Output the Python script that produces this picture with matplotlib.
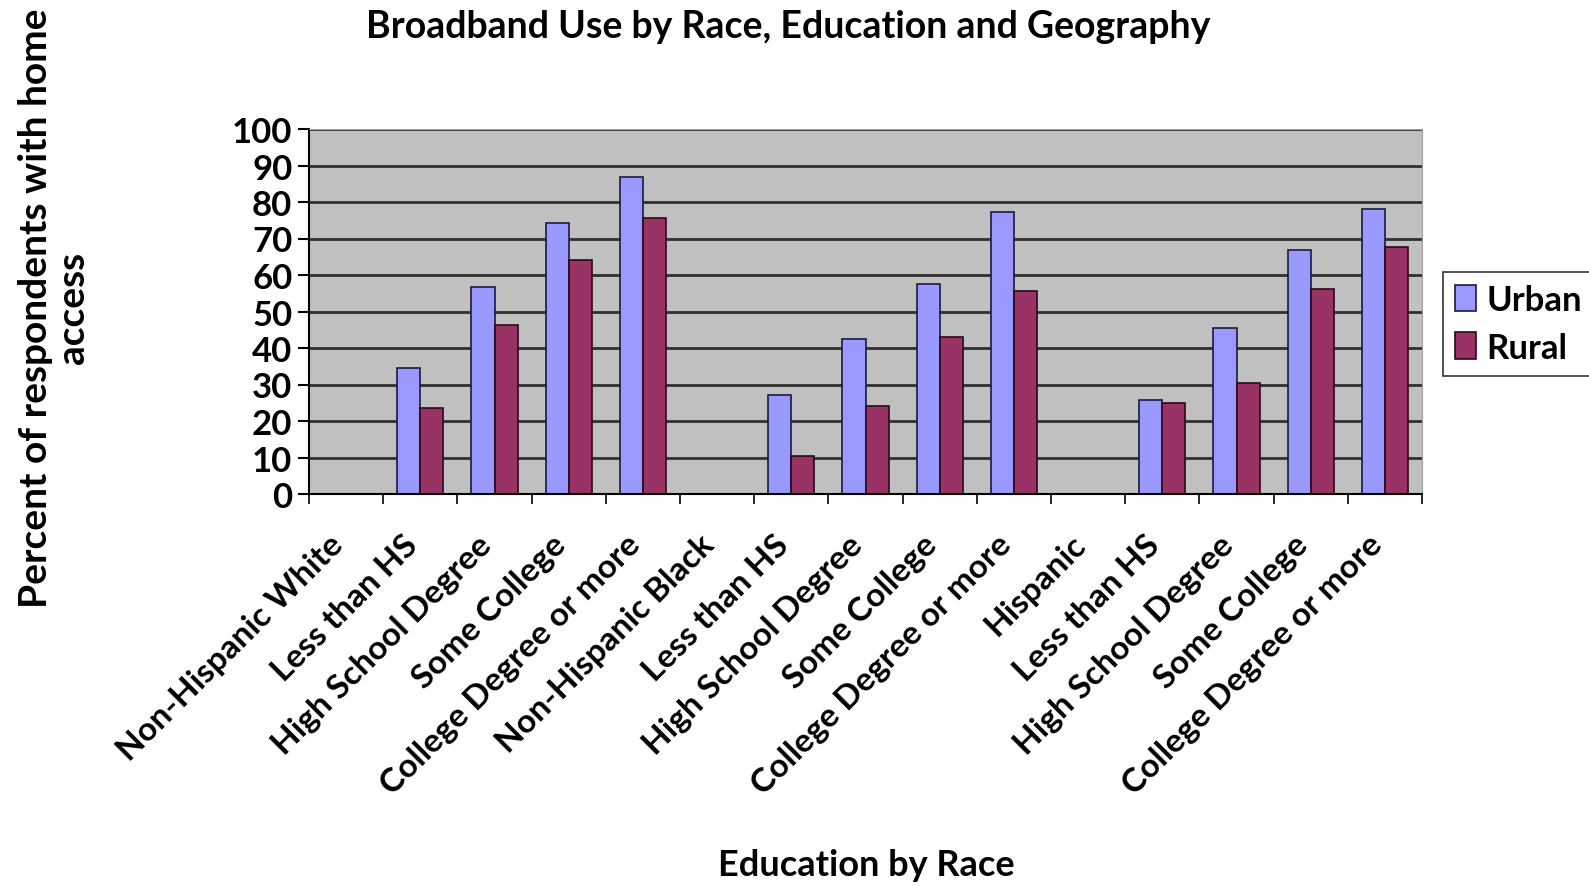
import numpy as np
import matplotlib
matplotlib.use("Agg")
import matplotlib.pyplot as plt
import matplotlib.transforms as mtransforms

# data (nan = group header, no bars)
categories = ['Non-Hispanic White', 'Less than HS', 'High School Degree', 'Some College', 'College Degree or more',
              'Non-Hispanic Black', 'Less than HS', 'High School Degree', 'Some College', 'College Degree or more',
              'Hispanic', 'Less than HS', 'High School Degree', 'Some College', 'College Degree or more']
urban = [np.nan, 34.4, 56.6, 74.2, 86.9,
         np.nan, 27.0, 42.5, 57.4, 77.2,
         np.nan, 25.8, 45.4, 66.8, 78.1]
rural = [np.nan, 23.5, 46.4, 64.2, 75.6,
         np.nan, 10.5, 24.0, 42.9, 55.5,
         np.nan, 24.8, 30.5, 56.1, 67.8]
yticks = list(range(0, 101, 10))

plt.rcParams['font.family'] = ['Lato', 'DejaVu Sans']

fig = plt.figure(figsize=(15.89, 8.87), dpi=100)
ax = fig.add_axes([309 / 1589, 1 - 495 / 887, (1422 - 309) / 1589, (495 - 130) / 887])

x = np.arange(len(categories))
w = 0.31
ax.set_facecolor('#C0C0C0')
ax.set_axisbelow(True)
ax.yaxis.grid(True, color='#303030', linewidth=2)
ax.bar(x - w / 2, urban, w, color='#9999FF', edgecolor='#1a1a40', linewidth=1.2, label='Urban')
ax.bar(x + w / 2, rural, w, color='#993366', edgecolor='#2a0a18', linewidth=1.2, label='Rural')

ax.set_xlim(-0.5, len(categories) - 0.5)
ax.set_ylim(0, 100)
ax.set_yticks(yticks)
ax.set_yticklabels([str(t) for t in yticks], fontsize=25, fontweight='bold')
ax.tick_params(axis='y', length=8, width=1.5, pad=4)

# category ticks sit between the categories, labels under the centers
ax.set_xticks(np.arange(len(categories) + 1) - 0.5)
ax.set_xticklabels([])
ax.set_xticks(x, minor=True)
ax.set_xticklabels(categories, minor=True, rotation=45, ha='right', va='top',
                   rotation_mode='anchor', fontsize=24, fontweight='bold')
ax.tick_params(axis='x', which='major', length=7, width=1.2)
ax.tick_params(axis='x', which='minor', length=0, pad=24)
shift = mtransforms.ScaledTranslation(-18 / 100, -2 / 100, fig.dpi_scale_trans)
for lbl in ax.get_xticklabels(minor=True):
    lbl.set_transform(lbl.get_transform() + shift)

for side in ['top', 'right']:
    ax.spines[side].set_color('#a0a0a0')
ax.spines['left'].set_linewidth(1.5)
ax.spines['bottom'].set_linewidth(1.5)

fig.text(788 / 1589, 1 - 27 / 887, 'Broadband Use by Race, Education and Geography',
         ha='center', va='center', fontsize=27, fontweight='bold')
fig.text(866 / 1589, 1 - 866 / 887, 'Education by Race',
         ha='center', va='center', fontsize=26, fontweight='bold')
fig.text(54 / 1589, 1 - 308 / 887, 'Percent of respondents with home\naccess',
         ha='center', va='center', rotation=90, fontsize=28, fontweight='bold',
         multialignment='center', linespacing=1.1)

leg = fig.legend(loc='center left', bbox_to_anchor=(1443 / 1589, 1 - 325 / 887),
                 fontsize=25, frameon=True, fancybox=False, handlelength=0.6,
                 handleheight=0.8, handletextpad=0.3, borderpad=0.35, labelspacing=0.45,
                 borderaxespad=0)
leg.get_frame().set_edgecolor('black')
leg.get_frame().set_linewidth(1.2)
for t in leg.get_texts():
    t.set_fontweight('bold')

fig.savefig('out.png', dpi=100)
